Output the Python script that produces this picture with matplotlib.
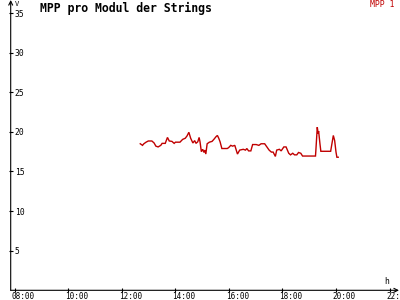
import matplotlib
matplotlib.use("Agg")
import matplotlib.pyplot as plt
import matplotlib.transforms as mtransforms

title = "MPP pro Modul der Strings"
series_name = "MPP 1"
y_unit = "V"
x_unit = "h"

times = ["12:41", "12:46", "12:49", "12:54", "12:59", "13:07", "13:12", "13:16", "13:21",
         "13:27", "13:30", "13:37", "13:42", "13:46", "13:52", "13:57", "14:00", "14:10",
         "14:16", "14:22", "14:26", "14:30", "14:34", "14:39", "14:43", "14:46", "14:50",
         "14:53", "14:55", "14:58", "15:01", "15:04", "15:06", "15:08", "15:11", "15:16",
         "15:22", "15:26", "15:31", "15:34", "15:37", "15:40", "15:44", "15:56", "15:59",
         "16:04", "16:08", "16:13", "16:19", "16:24", "16:32", "16:37", "16:40", "16:44",
         "16:49", "16:53", "17:01", "17:07", "17:12", "17:20", "17:25", "17:30", "17:35",
         "17:39", "17:44", "17:47", "17:53", "17:57", "18:03", "18:08", "18:14", "18:18",
         "18:23", "18:27", "18:32", "18:36", "18:41", "18:45", "19:14", "19:15", "19:18",
         "19:20", "19:21", "19:24", "19:26", "19:48", "19:51", "19:54", "19:57", "20:00",
         "20:02", "20:05"]
values = [18.5, 18.3, 18.5, 18.7, 18.85, 18.85, 18.6, 18.2, 18.1,
          18.3, 18.55, 18.55, 19.3, 18.85, 18.8, 18.55, 18.7, 18.7,
          19.05, 19.2, 19.5, 19.95, 19.2, 18.6, 18.9, 18.55, 18.75,
          19.3, 18.75, 17.5, 17.8, 17.4, 17.7, 17.2, 18.5, 18.7,
          18.8, 19.05, 19.4, 19.55, 19.2, 18.75, 17.9, 17.9, 18.0,
          18.3, 18.2, 18.3, 17.2, 17.7, 17.8, 17.7, 17.9, 17.6,
          17.6, 18.4, 18.4, 18.3, 18.5, 18.5, 18.1, 17.7, 17.45,
          17.45, 16.9, 17.7, 17.8, 17.6, 18.1, 18.1, 17.3, 17.1,
          17.3, 17.1, 17.1, 17.4, 17.3, 16.95, 16.95, 17.8, 20.6,
          19.8, 20.1, 18.5, 17.55, 17.55, 18.55, 19.55, 18.9, 17.45,
          16.8, 16.8]

xtick_vals = [8, 10, 12, 14, 16, 18, 20, 22]
xtick_labels = ["08:00", "10:00", "12:00", "14:00", "16:00", "18:00", "20:00", "22:00"]
ytick_vals = [5, 10, 15, 20, 25, 30, 35]


def to_hours(s):
    h, m = s.split(":")
    return int(h) + int(m) / 60.0


x = [to_hours(t) for t in times]

W, H = 400, 300
fig = plt.figure(figsize=(4, 3), dpi=100)
fig.patch.set_facecolor("white")
ax_left, ax_bottom = 10.7, 9.7
ax = fig.add_axes([ax_left / W, ax_bottom / H, (399 - ax_left) / W, (H - ax_bottom) / H])
ax.set_facecolor("white")
ax.set_xlim(7.84, 22.355)
ax.set_ylim(0, 36.65)
for s in ax.spines.values():
    s.set_visible(False)

line_color = "#c00000"
ax.plot(x, values, color=line_color, lw=1.0, solid_joinstyle="miter")

# axes with arrows
ax.annotate("", xy=(1.0, 0), xytext=(0, 0), xycoords="axes fraction",
            arrowprops=dict(arrowstyle="->", lw=0.8, color="black", shrinkA=0, shrinkB=0,
                            mutation_scale=7))
ax.annotate("", xy=(0, 1.0), xytext=(0, 0), xycoords="axes fraction",
            arrowprops=dict(arrowstyle="->", lw=0.8, color="black", shrinkA=0, shrinkB=0,
                            mutation_scale=7))

mono = "DejaVu Sans Mono"
ax.set_xticks(xtick_vals)
ax.set_xticklabels(xtick_labels, fontfamily=mono, fontsize=5.5)
ax.set_yticks(ytick_vals)
ax.set_yticklabels([str(v) for v in ytick_vals], fontfamily=mono, fontsize=5.8)
ax.tick_params(axis="both", direction="inout", length=3.5, width=0.8, color="black")
ax.tick_params(axis="x", pad=-0.6)
ax.tick_params(axis="y", pad=-4.8)

offx = mtransforms.ScaledTranslation(-3.3 / 100, 0, fig.dpi_scale_trans)
for lbl in ax.get_xticklabels():
    lbl.set_ha("left")
    lbl.set_transform(lbl.get_transform() + offx)
for lbl in ax.get_yticklabels():
    lbl.set_ha("left")

fig.text(40 / W, 1 - 8 / H, title, fontfamily=mono, fontweight="bold", fontsize=8.3,
         ha="left", va="center", color="black")
fig.text(394 / W, 1 - 4.5 / H, series_name, fontfamily=mono, fontsize=5.9,
         ha="right", va="center", color=line_color)
fig.text(15 / W, 1 - 3.5 / H, y_unit, fontfamily=mono, fontsize=5, ha="left",
         va="center", color="black")
fig.text(387 / W, 1 - 282 / H, x_unit, fontfamily=mono, fontsize=5.8, ha="center",
         va="center", color="black")

fig.savefig("out.png", dpi=100, facecolor="white")
